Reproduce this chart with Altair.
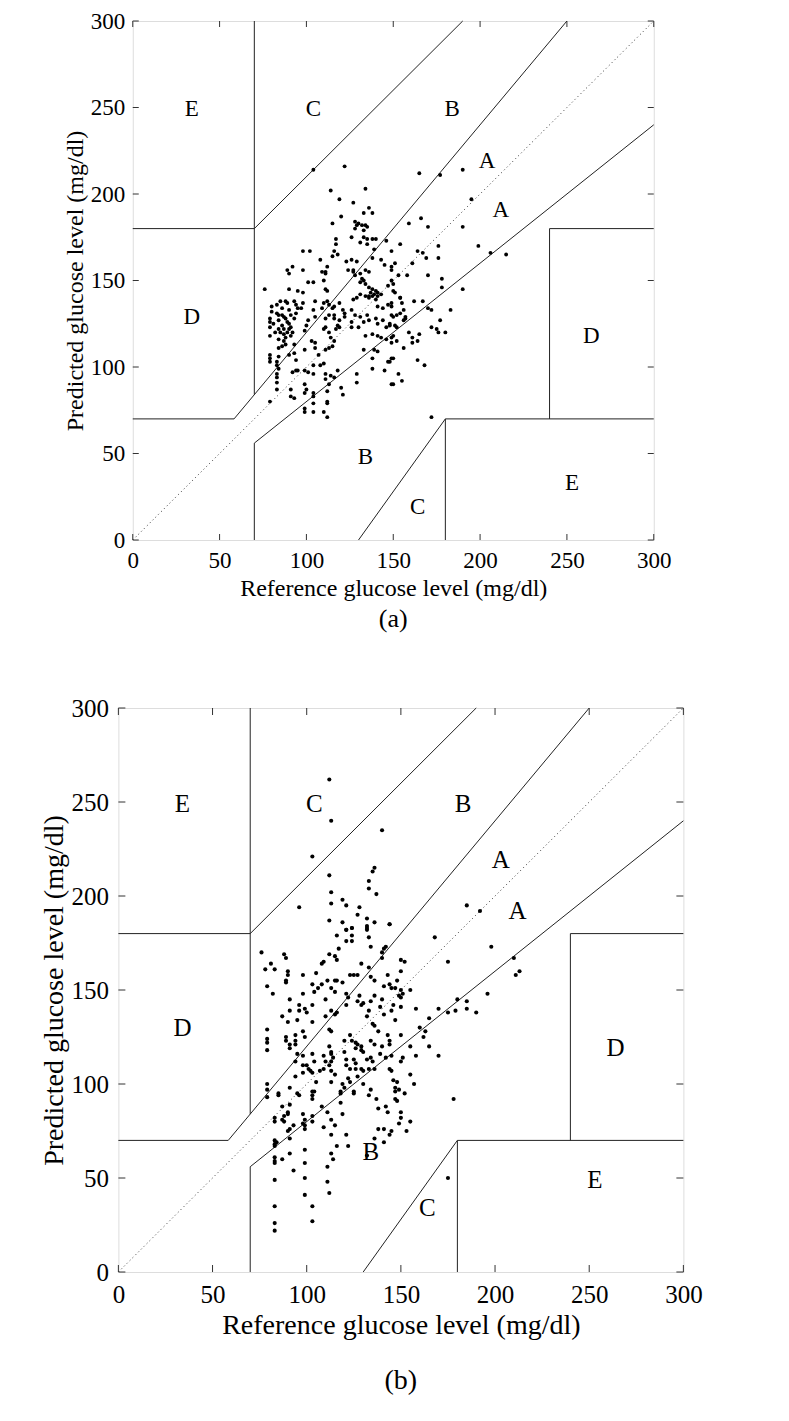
import altair as alt
import pandas as pd

# ---------------- data (mg/dl) ----------------
# Panel (a) scatter
a_pts = [
(104,214),(122,216),(114,202),(134,203),(119,197),(127,195),(136,192),(133,189),(138,189),(120,187),
(115,183),(128,184),(129,182),(130,183),(128,180),(132,182),(134,182),(135,181),(133,179),(126,175),
(133,175),(135,174),(138,174),(140,174),(131,172),(135,171),(146,173),(117,174),(117,171),(116,167),
(118,165),(115,164),(98,167),(102,167),(108,162),(112,158),(111,155),(109,155),(111,154),(110,150),
(89,156),(90,154),(92,158),(98,156),(101,149),(104,149),(76,145),(90,145),(95,144),(98,143),
(111,145),(112,144),(123,161),(126,162),(129,161),(124,156),(127,156),(127,155),(128,153),(131,154),
(134,156),(136,155),(132,151),(131,149),(133,150),(134,148),(139,168),(138,163),(143,162),(145,159),
(149,158),(147,147),(136,146),(138,145),(140,144),(141,143),(143,142),(137,143),(139,142),(141,141),
(136,141),(149,150),(150,144),
(80,135),(83,136),(85,138),(88,138),(89,137),(93,138),(94,136),(95,134),(97,134),(98,137),
(104,133),(105,138),(109,134),(110,137),(112,138),(113,136),(115,134),(116,135),(119,137),(121,133),
(122,131),(126,133),(127,139),(129,140),(131,142),(134,141),(136,140),(138,141),(140,139),(141,135),
(144,134),(147,136),(149,135),
(79,128),(79,126),(79,123),(83,131),(84,130),(86,130),(87,129),(88,128),(89,126),(84,127),
(86,124),(90,125),(91,123),(91,130),(93,128),(94,131),(100,124),(101,127),(105,129),(111,128),
(113,130),(116,130),(116,128),(119,127),(118,124),(122,129),(126,126),(128,130),(131,129),(133,126),
(135,130),(136,127),(140,128),(141,125),(144,127),(146,123),(148,124),(149,130),
(79,118),(84,122),(85,120),(87,119),(88,117),(89,120),(90,122),(87,115),(88,113),(91,118),
(93,113),(99,121),(103,115),(105,114),(105,111),(110,122),(111,123),(113,120),(114,117),(116,115),
(117,122),(119,123),(126,123),(130,123),(134,118),(138,119),(141,118),(143,117),(146,116),(149,114),
(79,107),(79,105),(84,111),(84,106),(90,107),(93,108),(94,104),(99,110),(107,107),(111,110),
(113,111),(115,112),(133,110),(139,110),(141,109),(149,105),(147,103),
(79,103),(83,103),(83,101),(84,99),(83,96),(92,97),(94,98),(95,98),(99,98),(101,97),
(104,101),(104,96),(108,101),(110,102),(111,96),(114,95),(116,94),(118,98),(129,96),(138,105),
(138,99),(145,98),
(83,94),(83,91),(83,87),(91,87),(99,90),(100,87),(99,85),(104,85),(111,93),(113,90),
(112,86),(120,88),(121,84),(129,91),(149,90),
(79,80),(91,83),(93,82),(104,83),(104,79),(99,76),(99,74),(104,74),(112,80),(112,79),
(110,74),(112,71),
(80,132),(81,125),(82,120),(84,116),(86,134),(87,122),(90,133),(92,120),(86,112),
(165,212),(177,211),(190,214),(195,197),(166,186),(159,183),(170,181),(190,181),(154,171),(149,167),
(164,167),(167,166),(176,170),(199,170),(206,166),(215,165),(151,160),(161,160),(169,163),(176,163),
(149,156),(153,153),(158,153),(150,148),(170,153),(178,151),(178,146),(190,145),(151,143),(154,140),
(154,140),(155,137),(162,138),(167,138),(149,137),(156,133),(154,131),(152,130),(150,129),(157,129),
(157,128),(156,127),(148,125),(151,124),(152,123),(170,134),(172,133),(183,133),(177,127),(172,123),
(175,122),(176,120),(180,120),(159,120),(161,117),(165,119),(161,114),(164,115),(149,117),(150,118),
(152,115),(156,111),(150,105),(148,103),(164,104),(168,101),(153,96),(150,90),(155,92),(172,71),
]

# Panel (b) scatter
b_pts = [
(112,262),(113,240),(140,235),(103,221),(112,211),(136,215),(135,213),(133,208),(133,204),(137,201),
(113,202),(96,194),(113,196),(119,198),(121,195),(128,194),(127,190),(132,188),(136,186),(112,187),
(119,186),(124,183),(121,182),(132,184),(144,185),
(121,182),(124,183),(124,179),(121,176),(124,176),(132,183),(132,182),(133,178),(134,173),(116,179),
(144,185),(141,172),(142,173),(140,170),(76,170),(88,169),(89,167),(81,164),(78,161),(83,161),
(112,169),(115,168),(116,166),(117,172),(109,165),(108,164),(129,164),(133,162),(140,167),(150,166),
(150,160),(90,160),(90,158),(89,155),(89,154),(105,159),(98,158),(79,152),(82,148),(98,148),
(103,153),(108,153),(106,151),(104,149),(111,155),(115,155),(116,155),(119,154),(123,158),(125,158),
(127,158),(134,157),(136,155),(143,158),(148,155),(141,152),(144,153),(145,151),(147,151),(150,150),
(151,148),(113,151),(115,149),(121,148),(122,146),(128,147),(130,143),(134,144),(136,147),(139,141),
(140,145),(149,147),(150,146),(146,142),(91,145),(96,142),(99,140),(100,138),(96,139),(95,134),
(91,139),(87,136),(90,133),(103,142),(103,133),(110,145),(110,136),(113,139),(115,137),(116,138),
(121,142),(127,144),(129,142),(133,139),(132,136),(135,132),(136,131),(141,137),(145,139),(147,134),
(150,141),(79,129),(79,124),(79,122),(79,118),(89,125),(89,123),(91,121),(91,119),(94,126),(94,123),
(94,121),(98,128),(99,125),(95,116),(112,129),(113,128),(123,126),(124,123),(126,122),(127,121),
(129,120),(126,119),(129,118),(130,117),(120,123),(120,117),(134,123),(136,121),(140,120),(144,121),
(139,116),(138,128),(143,126),(144,123),(150,126),(112,120),(113,117),(113,116),(114,114),(113,112),
(112,110),(109,115),(110,112),(103,116),(104,112),(98,115),(100,110),(101,108),(102,107),(94,112),
(94,104),(98,110),(107,107),(109,108),(113,107),(115,105),(121,113),(121,110),(125,113),(126,111),
(132,113),(134,114),(135,112),(133,108),(136,108),(123,108),(126,108),(129,108),(130,107),(122,103),
(123,101),(127,104),(142,114),(145,115),(144,108),(145,107),(151,114),(150,112),(146,102),(148,101),
(147,98),(149,97),(103,106),(105,101),(104,96),(98,106),(79,100),(79,97),(91,98),(95,95),
(85,95),(113,101),(119,100),(120,98),(118,96),(130,100),(134,97),(125,96),
(79,93),(85,94),(96,94),(103,96),(103,94),(103,92),(91,89),(87,88),(90,85),(90,84),
(88,83),(83,82),(83,80),(87,81),(88,80),(93,78),(91,76),(90,75),(91,71),(98,84),
(99,81),(98,79),(99,78),(99,76),(103,83),(103,80),(108,88),(111,85),(113,81),(115,78),
(118,95),(118,90),(119,84),(109,77),(125,95),(133,94),(137,92),(147,96),(147,92),(148,91),
(138,87),(142,88),(143,85),(150,85),(150,82),(149,79),(138,76),(141,76),(144,73),(145,75),
(136,71),(141,69),(113,73),(121,73),(122,67),(116,67),(83,70),(83,68),(84,69),(83,67),
(91,63),(83,61),(83,59),(83,58),(87,60),(93,54),(99,65),(99,58),(99,50),(99,41),
(113,63),(114,60),(111,56),(111,48),(112,42),(132,62),(83,49),(83,35),(83,26),(83,22),
(103,35),(103,27),
(152,165),(155,150),(158,140),(160,130),(162,125),(155,120),(158,115),(165,135),(170,140),(175,138),
(180,145),(185,140),(190,138),(168,178),(175,165),(185,195),(192,192),(198,173),(210,167),(211,158),
(213,160),(178,92),(175,50),(165,120),(170,115),(155,105),(157,100),(152,95),(155,80),(153,75),
(163,128),(179,139),(185,144),(196,148),
]

# Clarke error grid boundaries (x1, y1, x2, y2)
grid_x1 = [0, 58.33, 70, 0, 70, 70, 70, 180, 180, 240, 240, 130]
grid_y1 = [70, 70, 84, 180, 180, 0, 56, 0, 70, 70, 180, 0]
grid_x2 = [58.33, 250, 70, 70, 190, 70, 300, 180, 300, 240, 300, 180]
grid_y2 = [70, 300, 300, 180, 300, 56, 240, 70, 70, 180, 180, 70]

zone_text = ["E", "C", "B", "A", "A", "D", "D", "B", "C", "E"]
a_zx = [34, 104, 184, 204, 212, 34, 264, 134, 164, 253]
a_zy = [249, 249, 249, 219, 191, 129, 118, 48, 19, 33]
b_zx = [34, 104, 183, 203, 212, 34, 264, 134, 164, 253]
b_zy = [249, 249, 249, 219, 192, 130, 119, 64, 34, 49]

tick_vals = [0, 50, 100, 150, 200, 250, 300]

FONT = "Liberation Serif"


def panel(pts, zx, zy, W, H, lab_fs, tit_fs, zone_fs, caption, cap_fs, cap_off,
          psize, tick_len, lpad_x, lpad_y, tpad_y):
    sx = alt.Scale(domain=[0, 300], nice=False, zero=False)
    sy = alt.Scale(domain=[0, 300], nice=False, zero=False)
    ax_x = alt.Axis(values=tick_vals, title="Reference glucose level (mg/dl)", domain=False,
                    ticks=False, grid=False, labelFont=FONT, labelFontSize=lab_fs,
                    labelColor="black", titleFont=FONT, titleFontSize=tit_fs,
                    titleFontWeight="normal", titleColor="black", labelPadding=lpad_x,
                    titlePadding=4, labelFlush=False)
    ax_y = alt.Axis(values=tick_vals, title="Predicted glucose level (mg/dl)", domain=False,
                    ticks=False, grid=False, labelFont=FONT, labelFontSize=lab_fs,
                    labelColor="black", titleFont=FONT, titleFontSize=tit_fs,
                    titleFontWeight="normal", titleColor="black", labelPadding=lpad_y,
                    titlePadding=tpad_y, labelFlush=False)
    X = lambda f: alt.X(f, type="quantitative", scale=sx, axis=ax_x)
    Y = lambda f: alt.Y(f, type="quantitative", scale=sy, axis=ax_y)

    seg = pd.DataFrame({"x": grid_x1, "y": grid_y1, "x2": grid_x2, "y2": grid_y2})
    lines = alt.Chart(seg).mark_rule(color="#222", strokeWidth=1).encode(
        x=X("x"), y=Y("y"), x2="x2:Q", y2="y2:Q")

    diag = alt.Chart(pd.DataFrame({"x": [0], "y": [0], "x2": [300], "y2": [300]})).mark_rule(
        color="#333", strokeWidth=1, strokeDash=[1, 3]).encode(
        x=X("x"), y=Y("y"), x2="x2:Q", y2="y2:Q")

    df = pd.DataFrame(pts, columns=["x", "y"])
    dots = alt.Chart(df).mark_circle(color="black", opacity=1, size=psize).encode(
        x=X("x"), y=Y("y"))

    zdf = pd.DataFrame({"x": zx, "y": zy, "t": zone_text})
    zones = alt.Chart(zdf).mark_text(font=FONT, fontSize=zone_fs, color="black").encode(
        x=X("x"), y=Y("y"), text="t:N")

    tdf = pd.DataFrame({"x": tick_vals, "y": tick_vals})
    tb = alt.Chart(tdf).mark_rule(color="#333").encode(
        x=X("x"), y=alt.value(H), y2=alt.value(H - tick_len))
    tt = alt.Chart(tdf).mark_rule(color="#333").encode(
        x=X("x"), y=alt.value(0), y2=alt.value(tick_len))
    tl = alt.Chart(tdf).mark_rule(color="#333").encode(
        y=Y("y"), x=alt.value(0), x2=alt.value(tick_len))
    tr = alt.Chart(tdf).mark_rule(color="#333").encode(
        y=Y("y"), x=alt.value(W), x2=alt.value(W - tick_len))

    return alt.layer(lines, diag, tb, tt, tl, tr, dots, zones).properties(
        width=W, height=H,
        title=alt.TitleParams(caption, orient="bottom", font=FONT, fontSize=cap_fs,
                              fontWeight="normal", color="black", offset=cap_off))


pa = panel(a_pts, a_zx, a_zy, 521, 519, 23, 24, 23, "(a)", 26, 6, 15, 6, 9, 8, 3)
pb = panel(b_pts, b_zx, b_zy, 565, 564, 25, 28, 25, "(b)", 28, 28, 17, 7, 10, 10, 2)

# empty layout spacer to the right of panel (a) (shifts it to its place in the figure)
spacer = alt.Chart(pd.DataFrame({"v": [0]})).mark_point(opacity=0).encode(
    x=alt.value(0), y=alt.value(0)
).properties(width=12, height=1, view=alt.ViewBackground(stroke="transparent"))

top = alt.hconcat(pa, spacer, spacing=0)

chart = alt.vconcat(top, pb, spacing=62, center=True).properties(
    padding={"left": 32, "right": 5, "top": 1, "bottom": 5}
).configure_view(stroke="#555", strokeWidth=1).configure(background="white")

chart.save("out.html", embed_options={"renderer": "svg", "actions": False})
